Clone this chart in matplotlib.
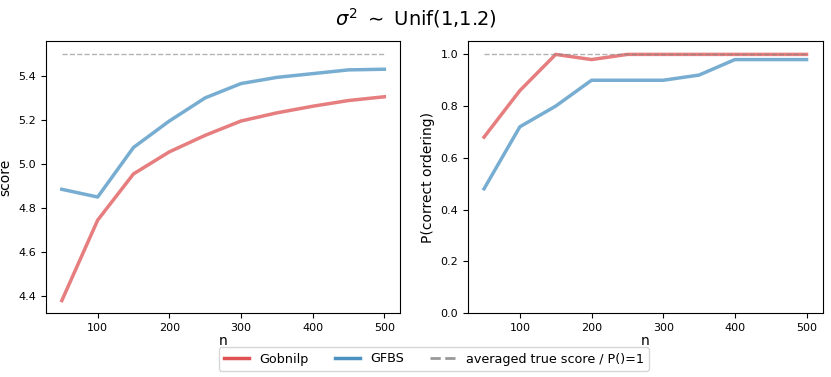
import numpy as np
import matplotlib
matplotlib.use('Agg')
import matplotlib.pyplot as plt
from matplotlib.lines import Line2D

n = [50, 100, 150, 200, 250, 300, 350, 400, 450, 500]

score_gobnilp = [4.38, 4.745, 4.955, 5.055, 5.13, 5.195, 5.232, 5.262, 5.288, 5.305]
score_gfbs = [4.885, 4.85, 5.075, 5.195, 5.30, 5.365, 5.393, 5.41, 5.427, 5.43]
true_score = 5.5

p_gobnilp = [0.68, 0.86, 1.0, 0.98, 1.0, 1.0, 1.0, 1.0, 1.0, 1.0]
p_gfbs = [0.48, 0.72, 0.80, 0.90, 0.90, 0.90, 0.92, 0.98, 0.98, 0.98]
p_true = 1.0

red = 'tab:red'
blue = 'tab:blue'

fig, (ax1, ax2) = plt.subplots(1, 2, figsize=(8.31, 3.77), dpi=100)
fig.subplots_adjust(left=0.055, right=0.99, top=0.89, bottom=0.17, wspace=0.19)

ax1.plot(n, score_gobnilp, color=red, alpha=0.6, lw=2.5)
ax1.plot(n, score_gfbs, color=blue, alpha=0.6, lw=2.5)
ax1.plot(n, [true_score] * len(n), color='grey', alpha=0.6, lw=1, ls='--')
ax1.set_ylabel('score')
ax1.set_xlabel('n', labelpad=1)

ax2.plot(n, p_gobnilp, color=red, alpha=0.6, lw=2.5)
ax2.plot(n, p_gfbs, color=blue, alpha=0.6, lw=2.5)
ax2.plot(n, [p_true] * len(n), color='grey', alpha=0.6, lw=1, ls='--')
ax2.set_ylim(0, 1.05)
ax2.set_ylabel('P(correct ordering)')
ax2.set_xlabel('n', labelpad=1)

for ax in (ax1, ax2):
    ax.tick_params(labelsize=8)
    ax.set_xticks([100, 200, 300, 400, 500])

handles = [Line2D([], [], color=red, alpha=0.8, lw=2.5),
           Line2D([], [], color=blue, alpha=0.8, lw=2.5),
           Line2D([], [], color='grey', alpha=0.8, lw=2, ls='--')]
fig.legend(handles, ['Gobnilp', 'GFBS', 'averaged true score / P()=1'],
           loc='lower center', ncol=3, bbox_to_anchor=(0.522, 0.0),
           fontsize=9.2)
fig.suptitle(r'$\sigma^2$ $\sim$ Unif(1,1.2)', fontsize=14, y=0.985)

fig.savefig('out.png')
